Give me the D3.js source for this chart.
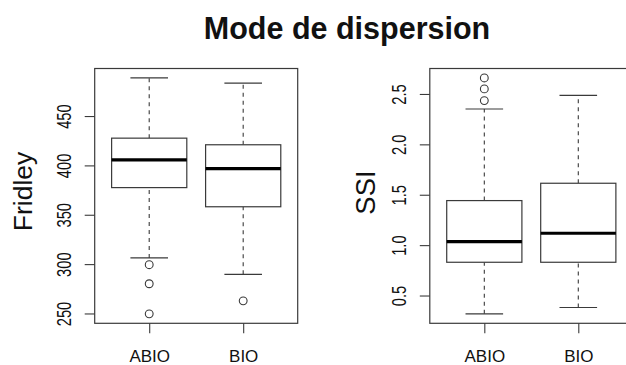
<!DOCTYPE html>
<html lang="en">
<head>
<meta charset="UTF-8">
<title>Mode de dispersion</title>
<script src="https://d3js.org/d3.v7.min.js"></script>
<style>
  body { margin: 0; background: #fff; }
  svg { display: block; }
  text { font-family: 'Liberation Sans', Arial, Helvetica, sans-serif; fill: #111; }
</style>
</head>
<body>
<div id="chart"></div>
<script>
// groups on the x axis
const groups = ["ABIO", "BIO"];

// Fridley panel
const fridleyLow = [306.3, 289.7];
const fridleyQ1 = [377.5, 358.1];
const fridleyMedian = [405.6, 396.8];
const fridleyQ3 = [427.6, 420.9];
const fridleyHigh = [488.6, 483.3];
const fridleyOutliers = [[299.4, 280.1, 249.6], [262.8]];
const fridleyTicks = [250, 300, 350, 400, 450];

// SSI panel
const ssiLow = [0.318, 0.381];
const ssiQ1 = [0.83, 0.83];
const ssiMedian = [1.035, 1.118];
const ssiQ3 = [1.442, 1.614];
const ssiHigh = [2.351, 2.486];
const ssiOutliers = [[2.659, 2.55, 2.434], []];
const ssiTicks = [0.5, 1.0, 1.5, 2.0, 2.5];

const width = 626, height = 365;
const svg = d3.select("#chart").append("svg")
  .attr("width", width)
  .attr("height", height);

svg.append("text")
  .attr("x", 347).attr("y", 38.5)
  .attr("text-anchor", "middle")
  .style("font-size", "30.5px")
  .style("font-weight", "bold")
  .text("Mode de dispersion");

const lineCol = "#3a3a3a";

function panel(opt) {
  // R style: extend data range by 4% on each side
  const all = opt.low.concat(opt.high, opt.outliers.flat());
  const lo = d3.min(all), hi = d3.max(all), pad = (hi - lo) * 0.04;
  const y = d3.scaleLinear().domain([lo - pad, hi + pad]).range([323.3, 68.5]);
  const x = d3.scaleLinear().domain([0.42, 2.58]).range([opt.left, opt.left + 203]);

  const g = svg.append("g");

  // y axis (frame line drawn separately)
  const ay = g.append("g")
    .attr("transform", `translate(${opt.left},0)`)
    .call(d3.axisLeft(y).tickValues(opt.ticks).tickSize(10).tickFormat(opt.fmt));
  ay.select(".domain").remove();
  ay.selectAll(".tick line").attr("stroke", lineCol).attr("stroke-width", 1.1);
  ay.selectAll(".tick text")
    .attr("x", null).attr("dy", null)
    .attr("text-anchor", "middle")
    .attr("fill", "#111")
    .style("font-size", "15.5px")
    .attr("transform", `translate(${opt.tickX - opt.left},0) rotate(-90) scale(0.95,1.25)`);

  // x axis
  const ax = g.append("g")
    .attr("transform", "translate(0,323.3)")
    .call(d3.axisBottom(x).tickValues([1, 2]).tickSize(10).tickFormat((d, i) => groups[i]));
  ax.select(".domain").remove();
  ax.selectAll(".tick line").attr("stroke", lineCol).attr("stroke-width", 1.1);
  ax.selectAll(".tick text")
    .attr("y", 38.4).attr("dy", null)
    .attr("fill", "#111")
    .style("font-size", "17px");

  // y label
  g.append("text")
    .attr("transform", `translate(${opt.labelX},${opt.labelY}) rotate(-90)`)
    .attr("text-anchor", "middle")
    .style("font-size", opt.labelSize + "px")
    .text(opt.label);

  // frame
  g.append("rect")
    .attr("x", x(0.42)).attr("y", y.range()[1])
    .attr("width", x(2.58) - x(0.42)).attr("height", y.range()[0] - y.range()[1])
    .attr("fill", "none").attr("stroke", lineCol).attr("stroke-width", 1.2);

  const boxW = x(1.8) - x(1), capW = boxW / 2;
  groups.forEach((grp, i) => {
    const cx = x(i + 1);
    // whiskers
    [[opt.low[i], opt.q1[i]], [opt.q3[i], opt.high[i]]].forEach(([a, b]) => {
      g.append("line")
        .attr("x1", cx).attr("x2", cx).attr("y1", y(a)).attr("y2", y(b))
        .attr("stroke", lineCol).attr("stroke-width", 1.1)
        .attr("stroke-dasharray", "4,4");
    });
    [opt.low[i], opt.high[i]].forEach(v => {
      g.append("line")
        .attr("x1", cx - capW / 2).attr("x2", cx + capW / 2)
        .attr("y1", y(v)).attr("y2", y(v))
        .attr("stroke", lineCol).attr("stroke-width", 1.2);
    });
    // box
    g.append("rect")
      .attr("x", cx - boxW / 2).attr("y", y(opt.q3[i]))
      .attr("width", boxW).attr("height", y(opt.q1[i]) - y(opt.q3[i]))
      .attr("fill", "#fff").attr("stroke", lineCol).attr("stroke-width", 1.2);
    // median
    g.append("line")
      .attr("x1", cx - boxW / 2).attr("x2", cx + boxW / 2)
      .attr("y1", y(opt.median[i])).attr("y2", y(opt.median[i]))
      .attr("stroke", "#000").attr("stroke-width", 3.2);
    // outliers
    g.selectAll(null).data(opt.outliers[i]).enter().append("circle")
      .attr("cx", cx).attr("cy", d => y(d)).attr("r", 3.9)
      .attr("fill", "none").attr("stroke", lineCol).attr("stroke-width", 1.1);
  });
}

panel({
  left: 94.7, low: fridleyLow, q1: fridleyQ1, median: fridleyMedian, q3: fridleyQ3,
  high: fridleyHigh, outliers: fridleyOutliers, ticks: fridleyTicks, fmt: d3.format("d"),
  tickX: 70.7, label: "Fridley", labelX: 31.5, labelY: 191.5, labelSize: 26.5
});

panel({
  left: 429.8, low: ssiLow, q1: ssiQ1, median: ssiMedian, q3: ssiQ3,
  high: ssiHigh, outliers: ssiOutliers, ticks: ssiTicks, fmt: d3.format(".1f"),
  tickX: 406, label: "SSI", labelX: 375, labelY: 192.5, labelSize: 27.5
});
</script>
</body>
</html>
